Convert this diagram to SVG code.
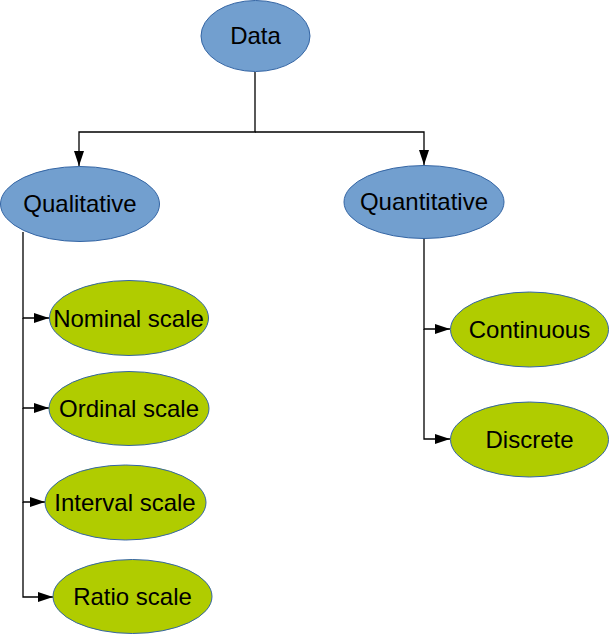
<svg xmlns="http://www.w3.org/2000/svg" width="609" height="635" viewBox="0 0 609 635">
<defs>
<marker id="ah" viewBox="0 0 15 10" refX="15" refY="5" markerWidth="15" markerHeight="10" markerUnits="userSpaceOnUse" orient="auto">
<path d="M0,0 L15,5 L0,10 Z" fill="#000"/>
</marker>
</defs>
<style>
.blue{fill:#729fcf;stroke:#3465a4;stroke-width:1}
.green{fill:#b0cc00;stroke:#3465a4;stroke-width:1}
text{font-family:"Liberation Sans",Arial,sans-serif;font-size:24px;fill:#000;text-anchor:middle}
.c{fill:none;stroke:#000;stroke-width:1.3}
</style>
<g id="connectors">
<polyline class="c" points="255,72 255,132 79,132 79,166" marker-end="url(#ah)"/>
<polyline class="c" points="255,132 424,132 424,165" marker-end="url(#ah)"/>
<polyline class="c" points="23,232 23,318 49,318" marker-end="url(#ah)"/>
<polyline class="c" points="23,318 23,408 49,408" marker-end="url(#ah)"/>
<polyline class="c" points="23,408 23,502 45,502" marker-end="url(#ah)"/>
<polyline class="c" points="23,502 23,597 53,597" marker-end="url(#ah)"/>
<polyline class="c" points="424,238 424,329 450,329" marker-end="url(#ah)"/>
<polyline class="c" points="424,329 424,439 450,439" marker-end="url(#ah)"/>
</g>
<g id="data"><ellipse class="blue" cx="255.5" cy="36" rx="54.5" ry="35.5"/><text x="255.5" y="44">Data</text></g>
<g id="qualitative"><ellipse class="blue" cx="80" cy="204" rx="79.5" ry="37.5"/><text x="80" y="212">Qualitative</text></g>
<g id="quantitative"><ellipse class="blue" cx="424" cy="202" rx="80" ry="36.5"/><text x="424" y="210">Quantitative</text></g>
<g id="nominal"><ellipse class="green" cx="129" cy="318" rx="79.5" ry="37.5"/><text x="128.5" y="326.5">Nominal scale</text></g>
<g id="ordinal"><ellipse class="green" cx="129" cy="408.5" rx="80" ry="37"/><text x="129" y="417">Ordinal scale</text></g>
<g id="interval"><ellipse class="green" cx="125.5" cy="502.5" rx="80.5" ry="37.5"/><text x="125" y="511">Interval scale</text></g>
<g id="ratio"><ellipse class="green" cx="132.5" cy="596.5" rx="79.5" ry="37"/><text x="132.5" y="605">Ratio scale</text></g>
<g id="continuous"><ellipse class="green" cx="529.5" cy="329.5" rx="79" ry="37.5"/><text x="529.5" y="337.5">Continuous</text></g>
<g id="discrete"><ellipse class="green" cx="529.5" cy="439.5" rx="79" ry="37.5"/><text x="529.5" y="447.5">Discrete</text></g>
</svg>
